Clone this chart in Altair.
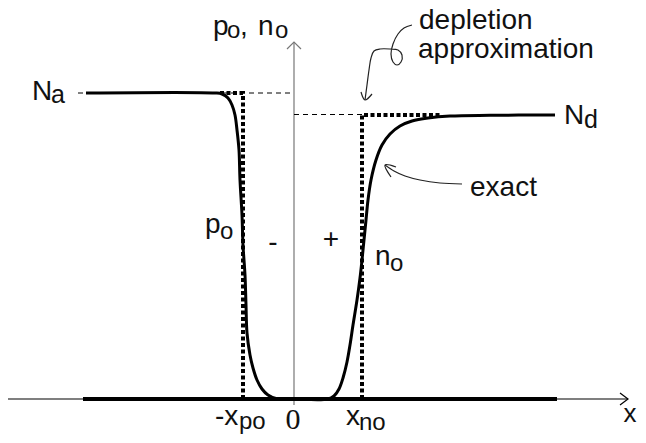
import altair as alt
import pandas as pd

# Diagram coordinates: u = position along x (0 at the junction), v = carrier concentration (0 at baseline)
Na_level = 306
Nd_level = 284
x_po = -51
x_no = 68

# exact carrier profile p0 (left) and n0 (right)
exact_u = [-208, -79, -72, -66, -62, -59, -57, -55, -54, -52, -51, -49, -48, -47, -44, -41, -37, -32, -26, -18, 0,
           34, 40, 45, 49, 53, 56, 59, 63, 66, 68, 70, 72, 74, 77, 82, 88, 96, 106, 118, 134, 156, 196, 261]
exact_v = [306, 306, 305, 301, 294, 284, 269, 249, 219, 184, 154, 124, 94, 66, 44, 31, 19, 10, 4, 0.5, 0,
           0, 3, 10, 21, 37, 54, 74, 99, 121, 139, 159, 179, 199, 219, 239, 254, 265, 273, 278, 281, 283, 283.7, 284]

# depletion approximation (box profile)
depl_seg = ["p", "p", "p", "n", "n", "n"]
depl_u = [-74, x_po, x_po, x_no, x_no, 146]
depl_v = [Na_level, Na_level, 0, 0, Nd_level, Nd_level]

# thick zero line
base_u = [-211, 263]
base_v = [0, 0]

# thin dashed reference levels
ref_seg = ["Na", "Na", "Nd", "Nd"]
ref_u = [-216, -1, 0, x_no]
ref_v = [Na_level, Na_level, Nd_level + 0.5, Nd_level + 0.5]

# axes with arrow heads
xaxis_seg = ["line", "line", "head", "head", "head"]
xaxis_u = [-294, 334, 326, 334, 326]
xaxis_v = [0, 0, 6, 0, -6]
yaxis_seg = ["line", "line", "head", "head", "head"]
yaxis_u = [0, 0, -7, 0, 7]
yaxis_v = [-6, 357, 350, 357, 350]

# hand-drawn annotation arrows
ann_seg = ["depl"] * 17 + ["dhead"] * 3 + ["exact"] * 6 + ["ehead"] * 3
ann_u = [118, 110, 104, 99, 97, 99, 103, 107, 108, 104, 96, 86, 80, 77, 75, 73, 71,
         67, 71, 78,
         168, 146, 126, 111, 100, 91,
         102, 91, 97]
ann_v = [374, 371, 365, 355, 345, 337, 334, 337, 344, 349, 350, 350, 348, 341, 329, 314, 299,
         307, 299, 305,
         215, 216, 219, 223, 228, 234,
         232, 234, 222]

# text labels (left aligned)
lab_text = ["N", "a", "N", "d", "p", "o", ",", "n", "o", "depletion", "approximation", "exact",
            "p", "o", "n", "o", "-x", "po", "x", "no"]
lab_u = [-262, -243, 270, 290, -81, -67, -54, -36, -19, 125, 124, 176,
         -89, -74, 81, 96, -79, -55, 52, 65]
lab_v = [299, 296, 275, 271, 364, 361, 364, 364, 361, 370, 341, 203,
         166, 160, 134, 128, -26, -30, -26, -31]
lab_size = [28, 25, 28, 25, 28, 24, 28, 28, 24, 28, 28, 28,
            28, 24, 28, 24, 28, 24, 28, 24]

# centered labels
cen_text = ["-", "+", "x"]
cen_u = [-21, 37, 336]
cen_v = [156, 159, -23]

zero_text = ["0"]
zero_u = [-1]
zero_v = [-30]

xs = alt.Scale(domain=[-286, 344], nice=False, zero=False)
ys = alt.Scale(domain=[-36, 391], nice=False, zero=False)


def X(f="u"):
    return alt.X(f"{f}:Q", scale=xs, axis=None)


def Y(f="v"):
    return alt.Y(f"{f}:Q", scale=ys, axis=None)


def idx(n):
    return list(range(n))


xaxis = alt.Chart(pd.DataFrame({"u": xaxis_u, "v": xaxis_v, "s": xaxis_seg, "i": idx(5)})).mark_line(
    color="#000", strokeWidth=1.2).encode(x=X(), y=Y(), detail="s:N", order="i:Q")
yaxis = alt.Chart(pd.DataFrame({"u": yaxis_u, "v": yaxis_v, "s": yaxis_seg, "i": idx(5)})).mark_line(
    color="#777", strokeWidth=1.2).encode(x=X(), y=Y(), detail="s:N", order="i:Q")
refs = alt.Chart(pd.DataFrame({"u": ref_u, "v": ref_v, "s": ref_seg, "i": idx(4)})).mark_line(
    color="#000", strokeWidth=1, strokeDash=[5, 4]).encode(x=X(), y=Y(), detail="s:N", order="i:Q")
base = alt.Chart(pd.DataFrame({"u": base_u, "v": base_v})).mark_line(
    color="#000", strokeWidth=4, strokeCap="butt").encode(x=X(), y=Y())
depl = alt.Chart(pd.DataFrame({"u": depl_u, "v": depl_v, "s": depl_seg, "i": idx(6)})).mark_line(
    color="#000", strokeWidth=4, strokeDash=[4, 2.5], strokeCap="butt").encode(
    x=X(), y=Y(), detail="s:N", order="i:Q")
exact = alt.Chart(pd.DataFrame({"u": exact_u, "v": exact_v, "i": idx(len(exact_u))})).mark_line(
    color="#000", strokeWidth=3, interpolate="catmull-rom").encode(x=X(), y=Y(), order="i:Q")
ann = alt.Chart(pd.DataFrame({"u": ann_u, "v": ann_v, "s": ann_seg, "i": idx(len(ann_u))})).mark_line(
    color="#222", strokeWidth=1.2, interpolate="catmull-rom").encode(x=X(), y=Y(), detail="s:N", order="i:Q")

labels = alt.Chart(pd.DataFrame({"t": lab_text, "u": lab_u, "v": lab_v, "sz": lab_size})).mark_text(
    align="left", baseline="alphabetic", font="Liberation Sans", color="#111").encode(
    x=X(), y=Y(), text="t:N", size=alt.Size("sz:Q", scale=None, legend=None))
signs = alt.Chart(pd.DataFrame({"t": cen_text[:2], "u": cen_u[:2], "v": cen_v[:2]})).mark_text(
    align="center", baseline="middle", font="Liberation Sans", color="#111", fontSize=28).encode(
    x=X(), y=Y(), text="t:N")
zero = alt.Chart(pd.DataFrame({"t": zero_text, "u": zero_u, "v": zero_v})).mark_text(
    align="center", baseline="alphabetic", font="Liberation Serif", color="#111", fontSize=30).encode(
    x=X(), y=Y(), text="t:N")
xlab = alt.Chart(pd.DataFrame({"t": cen_text[2:], "u": cen_u[2:], "v": cen_v[2:]})).mark_text(
    align="center", baseline="alphabetic", font="Liberation Sans", color="#111", fontSize=26).encode(
    x=X(), y=Y(), text="t:N")

chart = alt.layer(yaxis, xaxis, refs, base, depl, exact, ann, labels, signs, xlab, zero).properties(
    width=630, height=427, padding=0, autosize=alt.AutoSizeParams(type="none"), background="white"
).configure_view(strokeWidth=0)

chart.save("out.html", embed_options={"renderer": "svg", "actions": False})
